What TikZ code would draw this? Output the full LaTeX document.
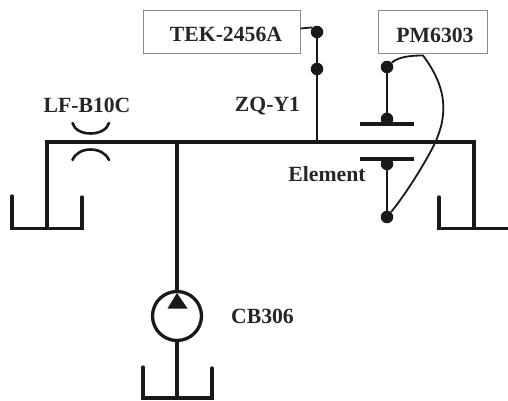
\documentclass[tikz,border=0pt]{standalone}
\usepackage{fontspec}
\setmainfont{Liberation Serif}
\begin{document}
\begin{tikzpicture}[x=1pt,y=-1pt,
  pipe/.style={line width=3.3pt,black!90,line cap=round,line join=miter},
  thin pipe/.style={line width=2.2pt,black!90},
  wire/.style={line width=1.8pt,black!90},
  dot/.style={circle,fill=black!90,inner sep=0pt,minimum size=12.5pt},
  inst/.style={draw=black!45,line width=1pt,fill=white,minimum height=43pt,inner sep=0pt},
  lab/.style={font=\bfseries\fontsize{21.7}{24}\selectfont,text=black!85,inner sep=0pt}]
\useasboundingbox (0,0) rectangle (508,401);
% instruments
\node[inst,minimum width=157pt] (tek) at (221.5,32.5) {};
\node[lab] at (226,34) {TEK-2456A};
\node[inst,minimum width=109pt] (pm) at (432.5,32.5) {};
\node[lab] at (435,35) {PM6303};
% junction coordinates
\coordinate (lt) at (47,142);
\coordinate (rt) at (474,142);
\coordinate (lb) at (47,228.5);
\coordinate (rb) at (474,228.5);
\coordinate (jp) at (177,142);
\coordinate (jz) at (317,142);
% main line and drops
\draw[pipe] (lb) -- (lt) -- (rt) -- (rb);
% tanks
\draw[pipe] (12,196) -- (12,228.5) -- (82,228.5) -- (82,197);
\draw[pipe] (439,197) -- (439,228.5) -- (510,228.5);
\draw[pipe] (143,367) -- (143,398) -- (212,398) -- (212,368);
% pump
\node[circle,draw=black!90,line width=3.3pt,minimum size=49pt,inner sep=0pt] (pump) at (177,316) {};
\draw[pipe] (jp) -- (pump.north);
\draw[pipe] (pump.south) -- (177,398);
\fill[black!90] (177,293) -- (187.5,308.5) -- (167.5,308.5) -- cycle;
\node[lab] at (262.5,316) {CB306};
% lens
\draw[pipe,line width=2.6pt] (72.5,123) .. controls (76,137) and (105,137) .. (109,123);
\draw[pipe,line width=2.6pt] (72.5,160) .. controls (78,146) and (103,146) .. (109,160);
\node[lab] at (87,105) {LF-B10C};
% sensor ZQ-Y1
\node[dot] (z1) at (317,32) {};
\node[dot] (z2) at (317,69) {};
\draw[wire] (tek.east |- 0,28.5) -- (z1.north west);
\draw[thin pipe] (z1) -- (z2);
\draw[thin pipe,line width=2.8pt] (z2) -- (317,125);
\draw[wire] (317,125) -- (jz);
\node[lab] at (267.5,106) {ZQ-Y1};
% element
\node[dot] (e1) at (387,67) {};
\node[dot] (e2) at (387,119) {};
\node[dot] (e3) at (387,164) {};
\node[dot] (e4) at (387,217) {};
\draw[pipe,line cap=butt] (360,124) -- (414,124);
\draw[pipe,line cap=butt] (360,159) -- (414,159);
\draw[thin pipe] (e1) -- (e2);
\draw[thin pipe] (e3) -- (e4);
\node[lab] at (327,174) {Element};
% leads to PM6303
\draw[wire] (e1) .. controls (398,57) and (410,55.5) .. (423,55.5)
  .. controls (445,85) and (450,112) .. (434,145)
  .. controls (424,165) and (405,195) .. (e4);
\end{tikzpicture}
\end{document}
